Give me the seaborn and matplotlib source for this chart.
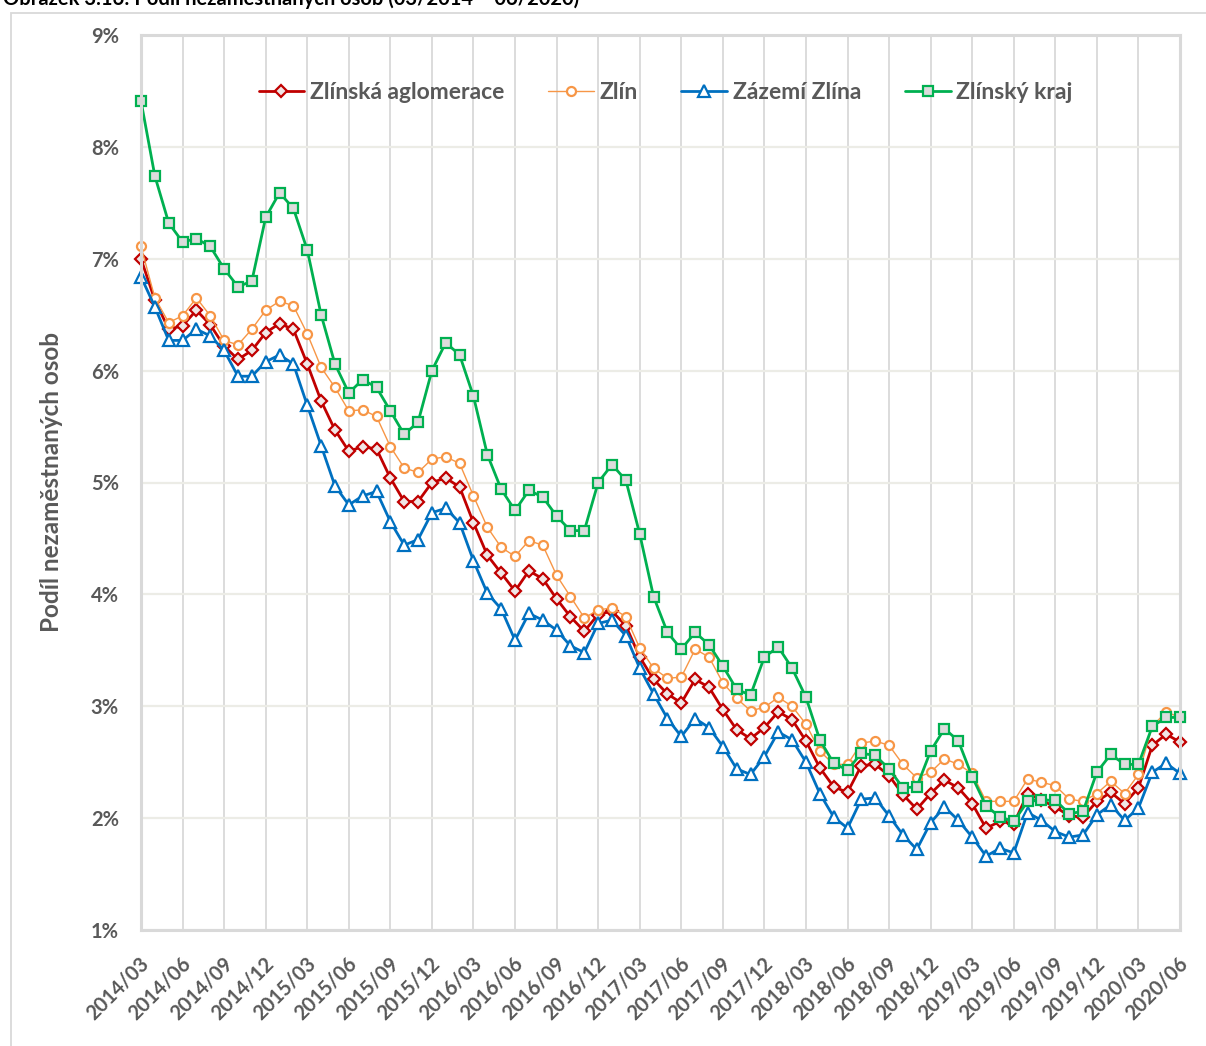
import matplotlib
matplotlib.use("Agg")
import matplotlib.pyplot as plt
import matplotlib.transforms as mtransforms
from matplotlib.patches import Rectangle
import seaborn as sns
import pandas as pd

# ── Data (podíl nezaměstnaných osob, %) ───────────────────────────────────────
months = [f"{y}/{m:02d}" for y in range(2014, 2021) for m in range(1, 13)]
months = months[months.index("2014/03"):months.index("2020/06") + 1]

aglomerace = [7.00, 6.63, 6.37, 6.40, 6.54, 6.41, 6.22, 6.10, 6.18, 6.34,
              6.42, 6.37, 6.06, 5.73, 5.47, 5.28, 5.32, 5.30, 5.04, 4.83,
              4.83, 5.00, 5.04, 4.96, 4.64, 4.35, 4.19, 4.03, 4.21, 4.14,
              3.96, 3.80, 3.67, 3.82, 3.85, 3.72, 3.44, 3.24, 3.11, 3.03,
              3.24, 3.17, 2.97, 2.79, 2.71, 2.81, 2.95, 2.88, 2.69, 2.45,
              2.28, 2.23, 2.47, 2.48, 2.38, 2.21, 2.08, 2.22, 2.34, 2.27,
              2.13, 1.91, 1.97, 1.95, 2.22, 2.16, 2.10, 2.02, 2.01, 2.15,
              2.23, 2.13, 2.27, 2.65, 2.75, 2.68]
zlin = [7.11, 6.65, 6.43, 6.49, 6.65, 6.49, 6.27, 6.23, 6.37, 6.54,
        6.62, 6.58, 6.33, 6.03, 5.85, 5.64, 5.65, 5.59, 5.32, 5.13,
        5.09, 5.21, 5.23, 5.17, 4.88, 4.60, 4.42, 4.34, 4.48, 4.44,
        4.17, 3.98, 3.79, 3.86, 3.88, 3.80, 3.52, 3.34, 3.25, 3.26,
        3.51, 3.44, 3.21, 3.07, 2.96, 2.99, 3.08, 3.00, 2.84, 2.60,
        2.48, 2.48, 2.67, 2.69, 2.65, 2.48, 2.36, 2.41, 2.53, 2.48,
        2.40, 2.15, 2.15, 2.15, 2.35, 2.32, 2.29, 2.17, 2.15, 2.22,
        2.33, 2.22, 2.39, 2.82, 2.95, 2.90]
zazemi = [6.84, 6.57, 6.27, 6.27, 6.37, 6.31, 6.18, 5.95, 5.95, 6.08,
          6.14, 6.06, 5.69, 5.33, 4.97, 4.80, 4.88, 4.92, 4.65, 4.44,
          4.49, 4.73, 4.77, 4.64, 4.30, 4.01, 3.87, 3.59, 3.83, 3.77,
          3.68, 3.54, 3.48, 3.74, 3.77, 3.63, 3.34, 3.11, 2.89, 2.73,
          2.89, 2.81, 2.64, 2.44, 2.39, 2.55, 2.77, 2.70, 2.50, 2.22,
          2.01, 1.91, 2.17, 2.18, 2.02, 1.85, 1.72, 1.96, 2.10, 1.98,
          1.83, 1.66, 1.73, 1.69, 2.05, 1.98, 1.88, 1.83, 1.85, 2.03,
          2.12, 1.98, 2.09, 2.41, 2.49, 2.40]
kraj = [8.41, 7.74, 7.32, 7.15, 7.18, 7.11, 6.91, 6.75, 6.80, 7.37,
        7.59, 7.45, 7.08, 6.50, 6.06, 5.80, 5.92, 5.85, 5.64, 5.43,
        5.54, 6.00, 6.25, 6.14, 5.77, 5.25, 4.94, 4.75, 4.93, 4.87,
        4.70, 4.57, 4.57, 5.00, 5.16, 5.02, 4.54, 3.98, 3.66, 3.51,
        3.66, 3.55, 3.36, 3.15, 3.10, 3.44, 3.53, 3.34, 3.08, 2.70,
        2.49, 2.43, 2.58, 2.56, 2.44, 2.27, 2.28, 2.60, 2.80, 2.69,
        2.37, 2.11, 2.01, 1.97, 2.15, 2.16, 2.16, 2.04, 2.06, 2.41,
        2.57, 2.48, 2.48, 2.82, 2.90, 2.90]

df = pd.DataFrame({
    "idx": range(len(months)),
    "Zlínská aglomerace": aglomerace,
    "Zlín": zlin,
    "Zázemí Zlína": zazemi,
    "Zlínský kraj": kraj,
})

# ── Styles ────────────────────────────────────────────────────────────────────
sns.set_theme(style="white")
plt.rcParams["font.family"] = ["Lato", "DejaVu Sans"]
plt.rcParams["font.weight"] = "bold"
TXT = "#595959"

series = [
    # name, color, marker, size, face, lw
    ("Zlínská aglomerace", "#c00000", "D", 6.5, "#f0e6e6", 2.0),
    ("Zlín", "#f79646", "o", 6.5, "white", 1.0),
    ("Zázemí Zlína", "#0070c0", "^", 8.0, "white", 2.0),
    ("Zlínský kraj", "#00b050", "s", 7.0, "#dcdcdc", 2.0),
]

fig = plt.figure(figsize=(12.06, 10.46), dpi=100)
ax = fig.add_axes([141 / 1206, 1 - 930 / 1046, 1039 / 1206, 895 / 1046])

for name, col, mk, ms, face, lw in series:
    sns.lineplot(data=df, x="idx", y=name, ax=ax, color=col, linewidth=lw,
                 marker=mk, markersize=ms, markerfacecolor=face,
                 markeredgecolor=col, markeredgewidth=1.6, label=name,
                 clip_on=False)

# ── Axes ──────────────────────────────────────────────────────────────────────
ax.set_xlim(0, len(months) - 1)
ax.set_ylim(1, 9)
ax.set_yticks(range(1, 10))
ax.set_yticklabels([f"{v}%" for v in range(1, 10)])
ticks = list(range(0, len(months), 3))
ax.set_xticks(ticks)
ax.set_xticklabels([months[t] for t in ticks], rotation=45, ha="right",
                   va="center", rotation_mode="anchor")
ax.tick_params(axis="x", length=0, pad=22, labelsize=14.5, labelcolor=TXT)
ax.tick_params(axis="y", length=0, pad=16, labelsize=14.5, labelcolor=TXT)
shift = mtransforms.ScaledTranslation(5 / 100, 0, fig.dpi_scale_trans)
for lab in ax.get_xticklabels():
    lab.set_transform(lab.get_transform() + shift)

ax.set_xlabel("")
ax.set_ylabel("Podíl nezaměstnaných osob", fontsize=17.5, color=TXT,
              fontweight="bold", labelpad=20)

ax.grid(axis="x", color="#d9d9d9", linewidth=1.3)
ax.grid(axis="y", color="#ecece6", linewidth=1.6)
ax.set_axisbelow(True)
for sp in ax.spines.values():
    sp.set_color("#d9d9d9")
    sp.set_linewidth(2.2)

leg = ax.legend(loc="center", bbox_to_anchor=(0.505, 0.936), ncol=4,
                frameon=False, fontsize=16.5, handlelength=2.0,
                columnspacing=1.9, handletextpad=0.25)
for t in leg.get_texts():
    t.set_color(TXT)

# outer chart frame and (clipped) caption
fig.patches.append(Rectangle((11 / 1206, -0.1), 1.2, 1.1 - 13 / 1046,
                             transform=fig.transFigure, fill=False,
                             edgecolor="#d9d9d9", linewidth=1.3))
fig.text(3 / 1206, 1 - 5 / 1046,
         "Obrázek 3.16: Podíl nezaměstnaných osob (03/2014 – 06/2020)",
         fontsize=14.5, fontweight="bold", color="black", va="baseline")

fig.savefig("out.png", dpi=100)
